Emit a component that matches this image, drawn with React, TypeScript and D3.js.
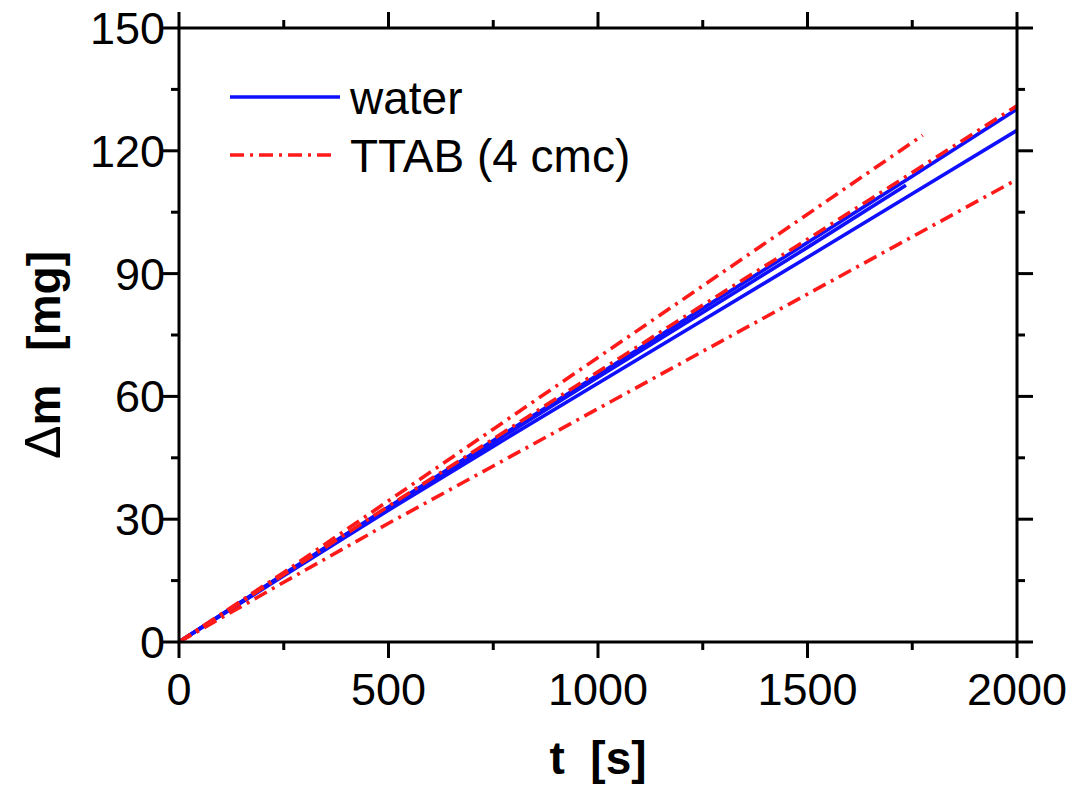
import React from "react";
import * as d3 from "d3";

const tFull = [0, 250, 500, 750, 1000, 1250, 1500, 1750, 2000];
const water1 = [0, 16.6, 33.0, 49.2, 65.3, 81.5, 97.6, 113.8, 130.2];
const water2 = [0, 16.2, 32.2, 47.8, 63.2, 78.6, 94.0, 109.5, 125.0];
const tWater3 = [0, 250, 500, 750, 1000, 1250, 1500, 1735];
const water3 = [0, 16.4, 32.6, 48.7, 64.7, 80.5, 96.4, 111.6];
const tTtab1 = [0, 250, 500, 750, 1000, 1250, 1500, 1775];
const ttab1 = [0, 17.0, 34.5, 52.0, 69.5, 87.0, 104.5, 123.8];
const ttab2 = [0, 16.5, 33.2, 49.6, 66.0, 82.3, 98.4, 114.7, 131.0];
const ttab3 = [0, 14.6, 29.0, 43.0, 57.0, 71.0, 85.0, 99.0, 113.0];

const xTicks = [0, 500, 1000, 1500, 2000];
const xMinor = [250, 750, 1250, 1750];
const yTicks = [0, 30, 60, 90, 120, 150];
const yMinor = [15, 45, 75, 105, 135];

const legendLabels = ["water", "TTAB (4 cmc)"];

const W = 1075;
const H = 789;

export default function App() {
  const x = d3.scaleLinear().domain([0, 2000]).range([179, 1017]);
  const y = d3.scaleLinear().domain([0, 150]).range([642, 28]);
  const [x0, x1] = x.range();
  const [y0, y1] = y.range();

  const mk = (ts: number[], vs: number[]) =>
    d3
      .line<number>()
      .x((_, i) => x(ts[i]))
      .y((v) => y(v))(vs) || "";

  const waterSeries = [
    mk(tFull, water1),
    mk(tFull, water2),
    mk(tWater3, water3),
  ];
  const ttabSeries = [mk(tTtab1, ttab1), mk(tFull, ttab2), mk(tFull, ttab3)];

  const blue = "#1010ff";
  const red = "#ff1a1a";
  const dash = "14,6,3,6";
  const font = "Liberation Sans, Arial, Helvetica, sans-serif";
  const maj = 16;
  const min = 8;
  const sw = 3;
  const lw = 3.6;

  return (
    <svg
      width={W}
      height={H}
      style={{ position: "absolute", left: 0, top: 0, background: "#fff" }}
      fontFamily={font}
    >
      <rect x={0} y={0} width={W} height={H} fill="#fff" />
      <defs>
        <clipPath id="plot">
          <rect x={x0} y={y1} width={x1 - x0} height={y0 - y1} />
        </clipPath>
      </defs>

      <g clipPath="url(#plot)">
        {waterSeries.map((d, i) => (
          <path key={"w" + i} d={d} fill="none" stroke={blue} strokeWidth={lw} />
        ))}
        {ttabSeries.map((d, i) => (
          <path
            key={"t" + i}
            d={d}
            fill="none"
            stroke={red}
            strokeWidth={lw}
            strokeDasharray={dash}
          />
        ))}
      </g>

      {/* frame */}
      <rect
        x={x0}
        y={y1}
        width={x1 - x0}
        height={y0 - y1}
        fill="none"
        stroke="#000"
        strokeWidth={sw}
      />

      {/* x ticks bottom/top */}
      {xTicks.map((t) => (
        <g key={"xt" + t}>
          <line x1={x(t)} x2={x(t)} y1={y0} y2={y0 + maj} stroke="#000" strokeWidth={sw} />
          <line x1={x(t)} x2={x(t)} y1={y1} y2={y1 - maj} stroke="#000" strokeWidth={sw} />
          <text
            x={x(t)}
            y={y0 + 63}
            textAnchor="middle"
            fontSize={45}
            fill="#000"
          >
            {t}
          </text>
        </g>
      ))}
      {xMinor.map((t) => (
        <g key={"xm" + t}>
          <line x1={x(t)} x2={x(t)} y1={y0} y2={y0 + min} stroke="#000" strokeWidth={sw} />
          <line x1={x(t)} x2={x(t)} y1={y1} y2={y1 - min} stroke="#000" strokeWidth={sw} />
        </g>
      ))}

      {/* y ticks left/right */}
      {yTicks.map((v) => (
        <g key={"yt" + v}>
          <line x1={x0} x2={x0 - maj} y1={y(v)} y2={y(v)} stroke="#000" strokeWidth={sw} />
          <line x1={x1} x2={x1 + maj} y1={y(v)} y2={y(v)} stroke="#000" strokeWidth={sw} />
          <text
            x={x0 - 14}
            y={y(v) + 16}
            textAnchor="end"
            fontSize={45}
            fill="#000"
          >
            {v}
          </text>
        </g>
      ))}
      {yMinor.map((v) => (
        <g key={"ym" + v}>
          <line x1={x0} x2={x0 - min} y1={y(v)} y2={y(v)} stroke="#000" strokeWidth={sw} />
          <line x1={x1} x2={x1 + min} y1={y(v)} y2={y(v)} stroke="#000" strokeWidth={sw} />
        </g>
      ))}

      {/* axis titles */}
      <text
        x={598}
        y={774}
        textAnchor="middle"
        fontSize={46}
        fontWeight="bold"
        fill="#000"
        xmlSpace="preserve"
      >
        t  [s]
      </text>
      <text
        transform={`translate(60, 355) rotate(-90)`}
        textAnchor="middle"
        fontSize={46}
        fontWeight="bold"
        fill="#000"
        xmlSpace="preserve"
      >
        <tspan fontWeight="normal" fontSize={50}>Δ</tspan>
        <tspan>m</tspan>
        <tspan dx={34}>[mg]</tspan>
      </text>

      {/* legend */}
      <line x1={230} x2={340} y1={97} y2={97} stroke={blue} strokeWidth={lw} />
      <text x={350} y={114} fontSize={46} fill="#000">
        {legendLabels[0]}
      </text>
      <line
        x1={230}
        x2={337}
        y1={155}
        y2={155}
        stroke={red}
        strokeWidth={lw}
        strokeDasharray={dash}
      />
      <text x={350} y={172} fontSize={46} fill="#000">
        {legendLabels[1]}
      </text>
    </svg>
  );
}
